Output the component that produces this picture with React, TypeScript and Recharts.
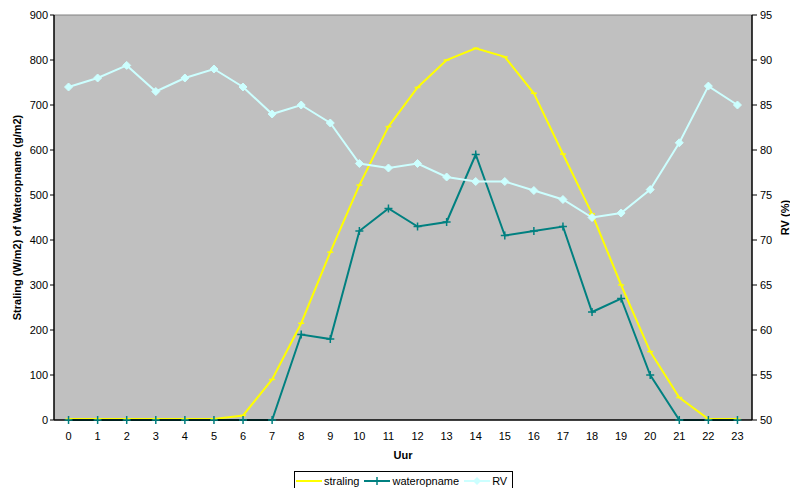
import React from "react";
import {
    LineChart,
    Line,
    XAxis,
    YAxis,
    CartesianGrid,
    ReferenceLine,
    Legend,
} from "recharts";

const FONT = "'Liberation Sans', Arial, sans-serif";

const hours = [0, 1, 2, 3, 4, 5, 6, 7, 8, 9, 10, 11, 12, 13, 14, 15, 16, 17, 18, 19, 20, 21, 22, 23];
const straling = [2, 2, 2, 2, 2, 2, 10, 90, 215, 373, 522, 652, 739, 800, 826, 807, 726, 591, 458, 300, 152, 50, 2, 2];
const wateropname = [0, 0, 0, 0, 0, 0, 0, 0, 190, 180, 420, 470, 430, 440, 590, 410, 420, 430, 240, 270, 100, 0, 0, 0];
const rv = [87, 88, 89.4, 86.5, 88, 89, 87, 84, 85, 83, 78.5, 78, 78.5, 77, 76.5, 76.5, 75.5, 74.5, 72.5, 73, 75.6, 80.8, 87.1, 85];

const leftTicks = [0, 100, 200, 300, 400, 500, 600, 700, 800, 900];
const rightTicks = [50, 55, 60, 65, 70, 75, 80, 85, 90, 95];
const edgeTicks = [...hours.map((h) => h - 0.5), 23.5];

const data = hours.map((h, i) => ({
    uur: h,
    straling: straling[i],
    wateropname: wateropname[i],
    rv: rv[i],
}));

const YELLOW = "#ffff00";
const TEAL = "#008080";
const CYAN = "#ccffff";

function DashDot(props: any) {
    const { cx, cy, index } = props;
    if (cx == null || cy == null) return null;
    return <line key={`s${index}`} x1={cx - 3} y1={cy} x2={cx + 3} y2={cy} stroke={YELLOW} strokeWidth={1.5} />;
}

function PlusDot(props: any) {
    const { cx, cy, index } = props;
    if (cx == null || cy == null) return null;
    return (
        <g key={`w${index}`}>
            <line x1={cx - 4} y1={cy} x2={cx + 4} y2={cy} stroke={TEAL} strokeWidth={1.5} />
            <line x1={cx} y1={cy - 4} x2={cx} y2={cy + 4} stroke={TEAL} strokeWidth={1.5} />
        </g>
    );
}

function DiamondDot(props: any) {
    const { cx, cy, index } = props;
    if (cx == null || cy == null) return null;
    return (
        <path
            key={`r${index}`}
            d={`M${cx},${cy - 4}L${cx + 4},${cy}L${cx},${cy + 4}L${cx - 4},${cy}Z`}
            fill={CYAN}
            stroke={CYAN}
        />
    );
}

function LegendBox() {
    const item = (color: string, label: string, marker: React.ReactNode) => (
        <div style={{ display: "flex", alignItems: "center", marginRight: 5 }}>
            <svg width={26} height={10}>
                <line x1={0} y1={5} x2={26} y2={5} stroke={color} strokeWidth={2} />
                {marker}
            </svg>
            <span style={{ marginLeft: 2 }}>{label}</span>
        </div>
    );
    return (
        <div
            style={{
                display: "flex",
                alignItems: "center",
                border: "1px solid #000",
                background: "#fff",
                padding: "3px 0px 6px 1px",
                fontFamily: FONT,
                fontSize: 11,
                color: "#000",
                whiteSpace: "nowrap",
            }}
        >
            {item(YELLOW, "straling", null)}
            {item(
                TEAL,
                "wateropname",
                <g>
                    <line x1={9} y1={5} x2={17} y2={5} stroke={TEAL} strokeWidth={1.5} />
                    <line x1={13} y1={1} x2={13} y2={9} stroke={TEAL} strokeWidth={1.5} />
                </g>
            )}
            {item(CYAN, "RV", <path d="M13,1L17,5L13,9L9,5Z" fill={CYAN} />)}
        </div>
    );
}

export default function App() {
    const tickStyle = { fontFamily: FONT, fontSize: 11, fill: "#000" };
    return (
        <div
            style={{
                position: "absolute",
                left: 0,
                top: 0,
                width: 790,
                height: 488,
                overflow: "hidden",
                background: "#fff",
            }}
        >
            <LineChart width={790} height={488} data={data} margin={{ top: 15, right: 0, left: 0, bottom: 29 }}>
                <CartesianGrid fill="#c0c0c0" horizontal={false} vertical={false} yAxisId="left" />
                <XAxis
                    xAxisId="edges"
                    dataKey="uur"
                    type="number"
                    domain={[-0.5, 23.5]}
                    ticks={edgeTicks}
                    tick={false}
                    tickSize={4}
                    axisLine={false}
                    tickLine={{ stroke: "#000" }}
                    height={0}
                />
                <XAxis
                    dataKey="uur"
                    type="number"
                    domain={[-0.5, 23.5]}
                    ticks={hours}
                    interval={0}
                    tickLine={false}
                    tickSize={6}
                    tickMargin={6}
                    axisLine={{ stroke: "#000", strokeWidth: 1.5 }}
                    tick={tickStyle}
                    height={39}
                    label={{
                        value: "Uur",
                        position: "insideBottom",
                        offset: 0,
                        style: { fontFamily: FONT, fontSize: 11, fontWeight: "bold", fill: "#000" },
                    }}
                />
                <YAxis
                    yAxisId="left"
                    domain={[0, 900]}
                    ticks={leftTicks}
                    interval={0}
                    width={54}
                    tickSize={4}
                    tickMargin={2}
                    tick={tickStyle}
                    axisLine={{ stroke: "#000", strokeWidth: 1.5 }}
                    tickLine={{ stroke: "#000" }}
                    label={{
                        value: "Straling (W/m2) of Wateropname (g/m2)",
                        angle: -90,
                        position: "insideLeft",
                        offset: 17,
                        style: { textAnchor: "middle", fontFamily: FONT, fontSize: 11, fontWeight: "bold", fill: "#000" },
                    }}
                />
                <YAxis
                    yAxisId="right"
                    orientation="right"
                    domain={[50, 95]}
                    ticks={rightTicks}
                    interval={0}
                    width={38}
                    tickSize={5}
                    tickMargin={3}
                    tick={tickStyle}
                    axisLine={{ stroke: "#000", strokeWidth: 1.5 }}
                    tickLine={{ stroke: "#000" }}
                    label={{
                        value: "RV (%)",
                        angle: -90,
                        position: "insideRight",
                        offset: 5,
                        style: { textAnchor: "middle", fontFamily: FONT, fontSize: 11, fontWeight: "bold", fill: "#000" },
                    }}
                />
                <ReferenceLine yAxisId="left" y={900} stroke="#808080" />
                <Line
                    yAxisId="left"
                    dataKey="straling"
                    name="straling"
                    stroke={YELLOW}
                    strokeWidth={2}
                    dot={DashDot}
                    activeDot={false}
                    isAnimationActive={false}
                />
                <Line
                    yAxisId="left"
                    dataKey="wateropname"
                    name="wateropname"
                    stroke={TEAL}
                    strokeWidth={2}
                    dot={PlusDot}
                    activeDot={false}
                    isAnimationActive={false}
                />
                <Line
                    yAxisId="right"
                    dataKey="rv"
                    name="RV"
                    stroke={CYAN}
                    strokeWidth={2}
                    dot={DiamondDot}
                    activeDot={false}
                    isAnimationActive={false}
                />
                <Legend
                    layout="horizontal"
                    verticalAlign="middle"
                    content={() => <LegendBox />}
                    wrapperStyle={{ left: 294, top: 471, width: "auto", height: "auto" }}
                />
            </LineChart>
        </div>
    );
}
